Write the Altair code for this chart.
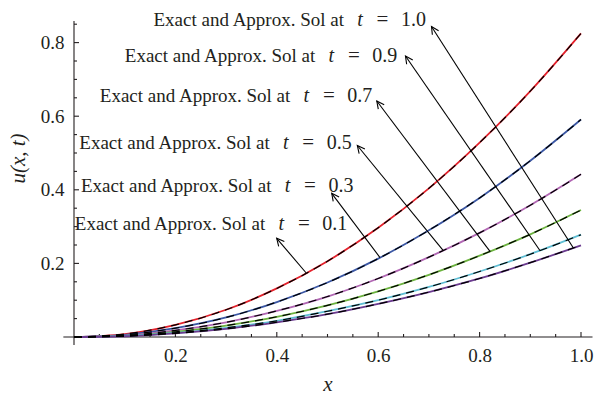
import altair as alt
import pandas as pd
import numpy as np

# ---------------- data ----------------
x_vals = [0.0, 0.1, 0.2, 0.3, 0.4, 0.5, 0.6, 0.7, 0.8, 0.9, 1.0]
t_labels = ["0.1", "0.3", "0.5", "0.7", "0.9", "1.0"]
u_t01 = [0, 0.008, 0.033, 0.074, 0.132, 0.206, 0.297, 0.404, 0.528, 0.668, 0.825]
u_t03 = [0, 0.006, 0.024, 0.053, 0.095, 0.148, 0.213, 0.290, 0.378, 0.479, 0.591]
u_t05 = [0, 0.004, 0.018, 0.040, 0.071, 0.110, 0.159, 0.217, 0.283, 0.358, 0.442]
u_t07 = [0, 0.003, 0.014, 0.031, 0.055, 0.086, 0.124, 0.169, 0.221, 0.279, 0.345]
u_t09 = [0, 0.003, 0.011, 0.025, 0.044, 0.070, 0.100, 0.136, 0.178, 0.225, 0.278]
u_t10 = [0, 0.002, 0.010, 0.022, 0.040, 0.062, 0.090, 0.122, 0.159, 0.202, 0.249]
curve_colors = ["#e4212b", "#3b57a4", "#b166b3", "#6cb33f", "#5ebdd3", "#6b3b8f"]

# annotation anchors (data units)
label_right_x = [0.5391, 0.5513, 0.5479, 0.5884, 0.6377, 0.6943]
label_base_y = [0.2908, 0.3940, 0.5109, 0.6399, 0.7481, 0.8451]
arrow_tip_x = [0.3998, 0.5083, 0.5588, 0.5972, 0.6538, 0.7051]
arrow_tip_y = [0.2682, 0.3905, 0.5204, 0.6413, 0.7636, 0.8438]
arrow_tail_x = [0.4576, 0.6036, 0.7280, 0.8205, 0.9190, 0.9850]

x_tick_labels = [0.2, 0.4, 0.6, 0.8, 1.0]
y_tick_labels = [0.2, 0.4, 0.6, 0.8]
x_minor = [round(0.05 * i, 2) for i in range(1, 21)]
y_minor = [round(0.05 * i, 2) for i in range(1, 18)]

# ---------------- layout ----------------
W, H = 507, 316
YTOP = 0.8587
KX = W / 1.0
KY = H / YTOP
FONT = "Liberation Serif"
TXT = "#231f20"
FS = 19

series = [u_t01, u_t03, u_t05, u_t07, u_t09, u_t10]
rows = []
for lab, us in zip(t_labels, series):
    for xv, uv in zip(x_vals, us):
        rows.append({"x": xv, "u": uv, "t": lab})
df = pd.DataFrame(rows)

tail_y = [float(np.interp(tx, x_vals, us)) for tx, us in zip(arrow_tail_x, series)]
angles = []
for tx, ty, hx, hy in zip(arrow_tail_x, tail_y, arrow_tip_x, arrow_tip_y):
    dxp = (hx - tx) * KX
    dyp = -(hy - ty) * KY
    a = np.degrees(np.arctan2(dxp, -dyp)) % 360
    angles.append(float(a))

df_ann = pd.DataFrame({
    "R": label_right_x, "B": label_base_y, "val": t_labels,
    "tip_x": arrow_tip_x, "tip_y": arrow_tip_y,
    "tail_x": arrow_tail_x, "tail_y": tail_y, "ang": angles,
})

# axis lines and ticks
ax_rows = [
    {"x": -0.021, "x2": 1.0227, "y": 0.0, "y2": 0.0},
    {"x": 0.0, "x2": 0.0, "y": -0.0217, "y2": YTOP},
]
for v in x_minor:
    L = 5 if abs(round(v * 20) % 4) == 0 else 3
    ax_rows.append({"x": v, "x2": v, "y": 0.0, "y2": L / KY})
for v in y_minor:
    L = 5 if abs(round(v * 20) % 4) == 0 else 3
    ax_rows.append({"x": 0.0, "x2": L / KX, "y": v, "y2": v})
df_ax = pd.DataFrame(ax_rows)

xs = alt.Scale(domain=[0, 1], nice=False, zero=False)
ys = alt.Scale(domain=[0, YTOP], nice=False, zero=False)
xaxis = alt.Axis(values=x_tick_labels, format=".1f", domain=False, ticks=False, grid=False,
                 labelFont=FONT, labelFontSize=FS, labelColor=TXT, labelPadding=9,
                 labelFlush=False, labelOverlap=False,
                 title="x", titleFont=FONT, titleFontSize=21, titleFontStyle="italic",
                 titleFontWeight="normal", titleColor=TXT, titleX=253.5, titleY=53,
                 titleBaseline="alphabetic", titleAlign="center")
yaxis = alt.Axis(values=y_tick_labels, format=".1f", domain=False, ticks=False, grid=False,
                 labelFont=FONT, labelFontSize=FS, labelColor=TXT, labelPadding=10,
                 labelFlush=False, labelOverlap=False,
                 title="u(x, t)", titleFont=FONT, titleFontSize=21, titleFontStyle="italic",
                 titleFontWeight="normal", titleColor=TXT, titleAngle=270,
                 titleX=-56, titleY=137, titleAlign="center", titleBaseline="middle")


def X(f):
    return alt.X(f, type="quantitative", scale=xs, axis=xaxis)


def Y(f):
    return alt.Y(f, type="quantitative", scale=ys, axis=yaxis)


axes_layer = alt.Chart(df_ax).mark_rule(color=TXT, strokeWidth=1.1).encode(
    x=X("x"), y=Y("y"), x2="x2", y2="y2")

colored = alt.Chart(df).mark_line(strokeWidth=1.8, interpolate="monotone").encode(
    x=X("x"), y=Y("u"),
    color=alt.Color("t:N", scale=alt.Scale(domain=t_labels, range=curve_colors), legend=None))

dashed = alt.Chart(df).mark_line(color="black", strokeWidth=1.2, strokeDash=[8, 6],
                                 interpolate="monotone").encode(
    x=X("x"), y=Y("u"), detail="t:N")

shafts = alt.Chart(df_ann).mark_rule(color="black", strokeWidth=1.1).encode(
    x=X("tail_x"), y=Y("tail_y"), x2="tip_x", y2="tip_y")

heads = alt.Chart(df_ann).mark_point(shape="M-0.5,1L0,0L0.5,1", filled=False, stroke="black",
                                     strokeWidth=1.1, size=220, opacity=1).encode(
    x=X("tip_x"), y=Y("tip_y"), angle=alt.Angle("ang:Q", scale=None))

base_txt = alt.Chart(df_ann)
prefix = base_txt.mark_text(text="Exact and Approx. Sol at", align="right", baseline="alphabetic",
                            dx=-82, font=FONT, fontSize=FS, color=TXT).encode(
    x=X("R"), y=Y("B"))
tpart = base_txt.mark_text(text="t", align="center", baseline="alphabetic", dx=-66,
                           font=FONT, fontSize=20, fontStyle="italic", color=TXT).encode(
    x=X("R"), y=Y("B"))
eqpart = base_txt.mark_text(text="=", align="center", baseline="alphabetic", dx=-43.5,
                            font=FONT, fontSize=21, color=TXT).encode(
    x=X("R"), y=Y("B"))
valpart = base_txt.mark_text(align="right", baseline="alphabetic",
                             font=FONT, fontSize=20, color=TXT).encode(
    x=X("R"), y=Y("B"), text="val:N")

chart = alt.layer(axes_layer, colored, dashed, shafts, heads, prefix, tpart, eqpart, valpart).properties(
    width=W, height=H,
    padding={"left": 74, "top": 21, "right": 15, "bottom": 61},
    autosize=alt.AutoSizeParams(type="none"),
    background="white",
).configure_view(strokeWidth=0)

chart.save("out.html", embed_options={"renderer": "svg", "actions": False})
